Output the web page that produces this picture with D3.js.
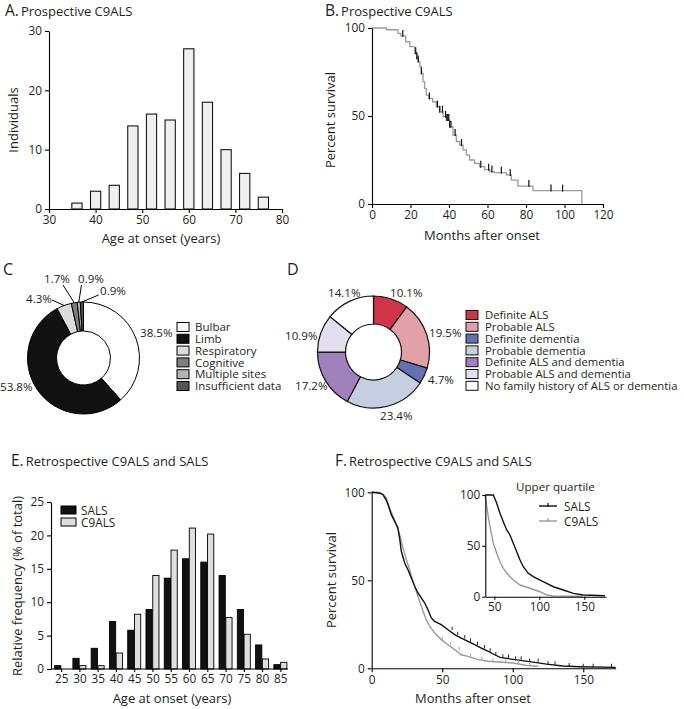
<!DOCTYPE html>
<html><head><meta charset="utf-8">
<script src="https://cdn.jsdelivr.net/npm/d3@7"></script>
<style>body{margin:0;background:#fff}svg{display:block;font-family:"Open Sans",sans-serif}</style>
</head><body>
<script>
// ---------------- DATA ----------------
// A: prospective C9ALS age at onset histogram
const ageBinsA = [36, 40, 44, 48, 52, 56, 60, 64, 68, 72, 76];
const countsA  = [1, 3, 4, 14, 16, 15, 27, 18, 10, 6, 2];
const ticksAx = [30, 40, 50, 60, 70, 80];
const ticksAy = [0, 10, 20, 30];

// B: prospective C9ALS Kaplan-Meier
const kmB_t = [0,7.5,13.5,15,17.5,19.6,22.2,23.2,24,24.8,25.6,26.5,27.3,28.2,29.6,31.5,33.4,35.1,36.9,38.6,40.3,42.1,43.8,45.5,47.3,49,50.7,53.3,55.9,58.5,61.1,63.5,69.8,72.4,75.8,83.6,109];
const kmB_s = [100,99,97,95.5,92.2,89.4,85.6,82.8,80.9,78,74.2,69.5,65.7,61.9,60,58.1,55.3,52.4,49.6,47.7,43.9,39.2,35.4,33.5,30.7,27.8,25,23.1,21.2,19.5,18.4,17.8,16.5,13.6,10.2,7.6,0];
const censB = [16,22.7,23.3,24,25.7,29.8,34,35.2,36.6,38.2,38.9,39.4,39.9,40.4,41,43.2,46.5,56.5,60.6,62.3,67.2,71.8,81.5,93,99];
const ticksBx = [0, 20, 40, 60, 80, 100, 120];
const ticksBy = [0, 50, 100];

// C: site of onset
const siteLabels = ["Bulbar", "Limb", "Respiratory", "Cognitive", "Multiple sites", "Insufficient data"];
const sitePct    = [38.5, 53.8, 4.3, 1.7, 0.9, 0.9];
const siteColors = ["#ffffff", "#111111", "#dcdcdc", "#7d7d7d", "#b4b4b4", "#555555"];

// D: family history
const famLabels = ["Definite ALS", "Probable ALS", "Definite dementia", "Probable dementia", "Definite ALS and dementia", "Probable ALS and dementia", "No family history of ALS or dementia"];
const famPct    = [10.1, 19.5, 4.7, 23.4, 17.2, 10.9, 14.1];
const famColors = ["#cf3447", "#e2a0a8", "#6470b4", "#c6cfe2", "#a080bc", "#e3dfee", "#ffffff"];

// E: retrospective age at onset
const ageCatsE = [25, 30, 35, 40, 45, 50, 55, 60, 65, 70, 75, 80, 85];
const salsE    = [0.5, 1.6, 3.1, 7.1, 5.8, 8.9, 13.6, 16.5, 16.0, 14.0, 8.9, 3.6, 0.65];
const c9alsE   = [0, 0.5, 0.5, 2.4, 8.2, 14.0, 17.8, 21.1, 20.2, 7.7, 5.2, 1.5, 1.0];
const seriesE  = ["SALS", "C9ALS"];
const ticksEy  = [0, 5, 10, 15, 20, 25];

// F: retrospective KM
const kmF_sals_t = [0,6,8,10,11.6,13.9,16.3,18.6,19.8,21,23.4,25.7,28.1,30.5,32.8,35.2,37.6,39.9,42.3,44.6,49.3,54.1,58.8,63.5,68.3,73,77.7,82.4,87.2,91,100,112,124,135.6,147.6,173];
const kmF_sals_s = [100,99.5,98.6,96,93,87.3,83.5,79.7,74,66.5,59.8,56,51.3,46.6,42.8,40,37.1,33.3,28.6,26.7,24.8,21.9,19.1,17.2,15.3,13.4,11.5,9.7,7.7,6.2,5.1,3.8,2.4,1.3,0.9,0.5];
const kmF_c9_t = [0,4.5,8,10.4,12.7,15.1,17.5,19.8,22.2,24.6,26.9,29.3,31.6,34,36.4,38.7,41.1,44.7,49.3,54.1,58.8,63.5,68.3,75.4,82.4,89.5,100,110,118];
const kmF_c9_s = [100,100,99,96.8,91,86.4,81.6,75.9,68.4,61.7,56,49.4,43.8,38,32.4,27.6,23.9,20,16.3,13.4,10.6,7.7,6.8,4.9,4.0,3.6,3.0,1.6,1.2];
const censF_sals = [57,61,66,70,75,80,84,88,93,97,102,106,112,118,125,130,140,150,157,170];
const censF_c9   = [50,56,62,70,78,86,95,104,112];
const ticksFx = [0, 50, 100, 150];
const ticksFy = [0, 50, 100];
// F inset: upper quartile
const inSals_t = [39.7,48.9,52.7,56.3,60,63.8,67.4,71.1,74.9,78.6,82.2,87.8,93.3,100.8,108.2,115.6,126.7,137.8,148.9,173];
const inSals_s = [100,100,91.8,82,73.7,65.6,60.7,52.5,44.2,36.1,29.5,23,19.7,16.4,13.2,9.8,6.6,3.3,1.7,1];
const inC9_t = [39.7,41.6,43.3,45.2,47.1,48.9,52.7,56.3,60,65.6,71.1,78.6,89.7,100.8,108.2,115.6,148];
const inC9_s = [100,88.5,78.7,68.8,60.7,52.5,42.7,34.4,27.9,21.3,16.4,11.5,8.3,4.9,1.7,0.7,0.5];
const ticksInX = [50, 100, 150];
const ticksInY = [0, 50, 100];

// ---------------- DRAW ----------------
const FONT = '"Open Sans", sans-serif';
const INK = "#231f20";
const svg = d3.select("body").append("svg").attr("width", 684).attr("height", 709)
  .attr("font-family", FONT);

function txt(x, y, s, size, anchor, rotate) {
  const t = svg.append("text").attr("x", x).attr("y", y).attr("font-size", size).attr("fill", INK).text(s);
  if (anchor) t.attr("text-anchor", anchor);
  if (rotate) t.attr("transform", `rotate(-90,${x},${y})`);
  return t;
}
function panelTitle(x, y, letter, rest) {
  const t = svg.append("text").attr("x", x).attr("y", y).attr("fill", INK);
  t.append("tspan").attr("font-size", 15.5).text(letter);
  if (rest) t.append("tspan").attr("font-size", 13).attr("dx", 2).text(rest);
}
function styleAxis(g, fs) {
  g.attr("font-family", FONT).attr("font-size", fs || 11.8);
  g.select(".domain").attr("stroke", "#000").attr("stroke-width", 1.1);
  g.selectAll(".tick line").attr("stroke", "#000").attr("stroke-width", 1.1);
  g.selectAll(".tick text").attr("fill", INK);
  return g;
}
function survAt(T, S, t) { let s = S[0]; for (let i = 0; i < T.length; i++) if (T[i] <= t) s = S[i]; return s; }

// ===== Panel A =====
panelTitle(5, 16, "A.", "Prospective C9ALS");
const xA = d3.scaleLinear([30, 80], [49, 282]);
const yA = d3.scaleLinear([0, 30], [209, 31]);
svg.append("g").selectAll("rect").data(ageBinsA).join("rect")
  .attr("x", (d) => xA(d - 1.1)).attr("width", (d) => xA(d + 1.1) - xA(d - 1.1))
  .attr("y", (d, i) => yA(countsA[i])).attr("height", (d, i) => yA(0) - yA(countsA[i]))
  .attr("fill", "#efefef").attr("stroke", "#000").attr("stroke-width", 1);
styleAxis(svg.append("g").attr("transform", "translate(0,209)")
  .call(d3.axisBottom(xA).tickValues(ticksAx).tickSize(4).tickSizeOuter(0).tickPadding(3)));
styleAxis(svg.append("g").attr("transform", "translate(49,0)")
  .call(d3.axisLeft(yA).tickValues(ticksAy).tickSize(4).tickSizeOuter(0).tickPadding(3)));
txt(18, 120, "Individuals", 13, "middle", true);
txt(161, 242.5, "Age at onset (years)", 13, "middle");

// ===== Panel B =====
panelTitle(325, 16, "B.", "Prospective C9ALS");
const xB = d3.scaleLinear([0, 120], [372, 603]);
const yB = d3.scaleLinear([0, 100], [204, 28]);
svg.append("path").datum(kmB_t.map((t, i) => [t, kmB_s[i]]))
  .attr("d", d3.line().x((d) => xB(d[0])).y((d) => yB(d[1])).curve(d3.curveStepAfter))
  .attr("fill", "none").attr("stroke", "#9a9a9a").attr("stroke-width", 1.3);
svg.append("g").selectAll("line").data(censB).join("line")
  .attr("x1", (d) => xB(d)).attr("x2", (d) => xB(d))
  .attr("y1", (d) => yB(survAt(kmB_t, kmB_s, d)) - 6).attr("y2", (d) => yB(survAt(kmB_t, kmB_s, d)) + 1)
  .attr("stroke", "#111").attr("stroke-width", 1.2);
styleAxis(svg.append("g").attr("transform", "translate(0,204)")
  .call(d3.axisBottom(xB).tickValues(ticksBx).tickSize(4).tickSizeOuter(0).tickPadding(3)));
styleAxis(svg.append("g").attr("transform", "translate(372,0)")
  .call(d3.axisLeft(yB).tickValues(ticksBy).tickSize(4).tickSizeOuter(0).tickPadding(3)));
txt(335, 120, "Percent survival", 13, "middle", true);
txt(482, 239.5, "Months after onset", 13, "middle");

// ===== Panel C =====
txt(3, 275, "C", 16);
const cC = [83.5, 358];
const gC = svg.append("g").attr("transform", `translate(${cC[0]},${cC[1]})`);
const pieC = d3.pie().sort(null).value((d) => d)(sitePct);
const arcC = d3.arc().innerRadius(27).outerRadius(56);
gC.selectAll("path").data(pieC).join("path").attr("d", arcC)
  .attr("fill", (d, i) => siteColors[i]).attr("stroke", "#000").attr("stroke-width", 1);
// label layout: [x, baseline, anchor, leader start]
const labC = [
  [140, 337, "start", null],
  [0, 391, "start", null],
  [26, 303, "start", [52, 300]],
  [44, 283, "start", [63, 285]],
  [78, 283, "start", [81.5, 285]],
  [100, 295, "start", [98.5, 295]]
];
pieC.forEach((d, i) => {
  const L = labC[i];
  txt(L[0], L[1], sitePct[i].toFixed(1) + "%", 11.6, L[2]);
  if (L[3]) {
    const a = (d.startAngle + d.endAngle) / 2;
    const ex = cC[0] + Math.sin(a) * 56, ey = cC[1] - Math.cos(a) * 56;
    svg.append("line").attr("x1", L[3][0]).attr("y1", L[3][1]).attr("x2", ex).attr("y2", ey)
      .attr("stroke", "#000").attr("stroke-width", 1);
  }
});
siteLabels.forEach((s, i) => {
  const y = 327 + i * 11.8;
  svg.append("rect").attr("x", 177).attr("y", y - 4.5).attr("width", 12).attr("height", 9)
    .attr("fill", siteColors[i]).attr("stroke", "#000").attr("stroke-width", 1);
  txt(195, y + 4.2, s, 11.5);
});

// ===== Panel D =====
txt(287, 275, "D", 16);
const cD = [373.5, 352];
const gD = svg.append("g").attr("transform", `translate(${cD[0]},${cD[1]})`);
const pieD = d3.pie().sort(null).value((d) => d)(famPct);
const arcD = d3.arc().innerRadius(28).outerRadius(56);
gD.selectAll("path").data(pieD).join("path").attr("d", arcD)
  .attr("fill", (d, i) => famColors[i]).attr("stroke", "#111").attr("stroke-width", 1.2);
const labD = [[390, 297], [429, 337], [428, 384], [380, 420], [295, 390], [285, 340], [328, 297]];
famPct.forEach((v, i) => txt(labD[i][0], labD[i][1], v.toFixed(1) + "%", 11.6));
famLabels.forEach((s, i) => {
  const y = 315 + i * 11.8;
  svg.append("rect").attr("x", 466).attr("y", y - 4.5).attr("width", 12).attr("height", 9)
    .attr("fill", famColors[i]).attr("stroke", "#111").attr("stroke-width", 1);
  txt(485, y + 4.2, s, 11.3);
});

// ===== Panel E =====
panelTitle(11, 466, "E.", "Retrospective C9ALS and SALS");
const x0E = d3.scaleBand(ageCatsE, [52.5, 290]);
const x1E = d3.scaleBand(seriesE, [-7, 6]).paddingInner(0.08);
const yE = d3.scaleLinear([0, 25], [669, 502]);
const valsE = { SALS: salsE, C9ALS: c9alsE };
const colE = { SALS: "#111111", C9ALS: "#dedede" };
seriesE.forEach((s) => {
  svg.append("g").selectAll("rect").data(ageCatsE).join("rect")
    .attr("x", (d) => x0E(d) + x0E.bandwidth() / 2 + x1E(s))
    .attr("width", x1E.bandwidth())
    .attr("y", (d, i) => yE(valsE[s][i])).attr("height", (d, i) => yE(0) - yE(valsE[s][i]))
    .attr("fill", colE[s]).attr("stroke", "#000").attr("stroke-width", 0.9);
});
const gEx = styleAxis(svg.append("g").attr("transform", "translate(0,669)")
  .call(d3.axisBottom(x0E).tickSize(3).tickSizeOuter(0).tickPadding(3)), 11.8);
gEx.select(".domain").remove();
svg.append("line").attr("x1", 51).attr("x2", 288).attr("y1", 669).attr("y2", 669).attr("stroke", "#000").attr("stroke-width", 1.1);
styleAxis(svg.append("g").attr("transform", "translate(51,0)")
  .call(d3.axisLeft(yE).tickValues(ticksEy).tickSize(4).tickSizeOuter(0).tickPadding(3)), 11.8);
seriesE.forEach((s, i) => {
  const y = 506 + i * 12;
  svg.append("rect").attr("x", 61).attr("y", y).attr("width", 15).attr("height", 8)
    .attr("fill", colE[s]).attr("stroke", "#000").attr("stroke-width", 1);
  txt(81, y + 8.5, s, 11.8);
});
txt(22, 586, "Relative frequency (% of total)", 13, "middle", true);
txt(172, 703, "Age at onset (years)", 13, "middle");

// ===== Panel F =====
panelTitle(335, 466, "F.", "Retrospective C9ALS and SALS");
const xF = d3.scaleLinear([0, 173], [371.7, 615.7]);
const yF = d3.scaleLinear([0, 100], [668.3, 492.3]);
const lineF = d3.line().x((d) => xF(d[0])).y((d) => yF(d[1]));
svg.append("path").datum(kmF_c9_t.map((t, i) => [t, kmF_c9_s[i]])).attr("d", lineF)
  .attr("fill", "none").attr("stroke", "#9a9a9a").attr("stroke-width", 1.4);
svg.append("path").datum(kmF_sals_t.map((t, i) => [t, kmF_sals_s[i]])).attr("d", lineF)
  .attr("fill", "none").attr("stroke", "#111").attr("stroke-width", 1.4);
function censF(arr, T, S, col) {
  svg.append("g").selectAll("line").data(arr).join("line")
    .attr("x1", (d) => xF(d)).attr("x2", (d) => xF(d))
    .attr("y1", (d) => yF(survAt(T, S, d)) - 3).attr("y2", (d) => yF(survAt(T, S, d)) + 0.5)
    .attr("stroke", col).attr("stroke-width", 0.9);
}
censF(censF_c9, kmF_c9_t, kmF_c9_s, "#9a9a9a");
censF(censF_sals, kmF_sals_t, kmF_sals_s, "#111");
styleAxis(svg.append("g").attr("transform", "translate(0,668.3)")
  .call(d3.axisBottom(xF).tickValues(ticksFx).tickSize(4).tickSizeOuter(0).tickPadding(3)), 11.8);
styleAxis(svg.append("g").attr("transform", "translate(371.7,0)")
  .call(d3.axisLeft(yF).tickValues(ticksFy).tickSize(4).tickSizeOuter(0).tickPadding(3)), 11.8);
txt(336, 580, "Percent survival", 13, "middle", true);
txt(473, 703, "Months after onset", 13, "middle");

// inset
const xI = d3.scaleLinear([40, 174], [485.3, 605.9]);
const yI = d3.scaleLinear([0, 100], [596.7, 495]);
const lineI = d3.line().x((d) => xI(d[0])).y((d) => yI(d[1]));
svg.append("path").datum(inC9_t.map((t, i) => [t, inC9_s[i]])).attr("d", lineI)
  .attr("fill", "none").attr("stroke", "#9a9a9a").attr("stroke-width", 1.4);
svg.append("path").datum(inSals_t.map((t, i) => [t, inSals_s[i]])).attr("d", lineI)
  .attr("fill", "none").attr("stroke", "#111").attr("stroke-width", 1.4);
styleAxis(svg.append("g").attr("transform", "translate(0,596.7)")
  .call(d3.axisBottom(xI).tickValues(ticksInX).tickSize(3).tickSizeOuter(0).tickPadding(3)), 11.8);
styleAxis(svg.append("g").attr("transform", "translate(485.3,0)")
  .call(d3.axisLeft(yI).tickValues(ticksInY).tickSize(3).tickSizeOuter(0).tickPadding(2)), 11.8);
txt(516, 491, "Upper quartile", 11.6);
[["SALS", "#111"], ["C9ALS", "#9a9a9a"]].forEach((s, i) => {
  const y = 506 + i * 15;
  svg.append("line").attr("x1", 539).attr("x2", 557).attr("y1", y).attr("y2", y).attr("stroke", s[1]).attr("stroke-width", 1.4);
  svg.append("line").attr("x1", 548).attr("x2", 548).attr("y1", y - 3).attr("y2", y + 1).attr("stroke", s[1]).attr("stroke-width", 1.2);
  txt(564, y + 4.5, s[0], 11.8);
});
</script>
</body></html>
